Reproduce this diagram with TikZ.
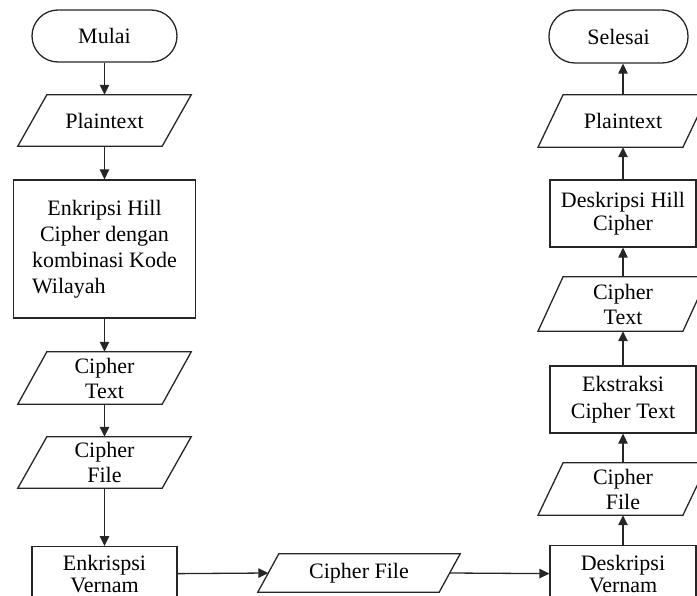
\documentclass[tikz,border=0pt]{standalone}
\usepackage{fontspec}
\setmainfont{Liberation Serif}
\usetikzlibrary{arrows.meta}
\begin{document}
\begin{tikzpicture}[x=1pt,y=1pt,
  font=\fontsize{22}{25}\selectfont,
  ln/.style={draw=black!85, line width=1.3pt},
  arr/.style={ln, -{Triangle[length=10pt,width=9.5pt]}},
  base/.style={inner sep=0pt, align=center, text=black},
  term/.style={base, ln, rectangle, rounded corners=26pt},
  proc/.style={base, ln, rectangle},
  io/.style={base, rectangle}]
\path[use as bounding box, clip] (0,0) rectangle (697,-596);

% left column
\node[term, minimum width=145pt, minimum height=52pt] (mulai) at (104.5,-36) {Mulai};
\node[io, minimum width=144pt, minimum height=51pt] (pt1) at (104.5,-120.5) {Plaintext};
\node[proc, minimum width=182pt, minimum height=138pt, font=\fontsize{22}{26}\selectfont] (enc) at (104.5,-249)
  {Enkripsi Hill\\Cipher dengan\\kombinasi Kode\\\rlap{Wilayah}\phantom{kombinasi Kode}};
\node[io, minimum width=144pt, minimum height=52pt] (ct1) at (104.5,-378) {Cipher\\Text};
\node[io, minimum width=144pt, minimum height=51pt] (cf1) at (104.5,-462.5) {Cipher\\File};
\node[proc, minimum width=145pt, minimum height=54pt, anchor=north, font=\fontsize{22}{22}\selectfont] (ev) at (104.5,-546) {Enkrispsi\\Vernam};

% middle
\node[io, minimum width=181pt, minimum height=38pt] (cfm) at (359,-573) {Cipher File};

% right column
\node[proc, minimum width=146pt, minimum height=56pt, anchor=north, font=\fontsize{22}{22}\selectfont] (dv) at (623,-545) {Deskripsi\\Vernam};
\node[io, minimum width=144.5pt, minimum height=52pt] (cf2) at (623,-489) {Cipher\\File};
\node[proc, minimum width=146pt, minimum height=67pt, font=\fontsize{22}{27}\selectfont] (ex) at (623,-399.5) {Ekstraksi\\Cipher Text};
\node[io, minimum width=144.5pt, minimum height=54pt] (ct2) at (623,-304) {Cipher\\Text};
\node[proc, minimum width=146pt, minimum height=67pt, font=\fontsize{22}{23}\selectfont] (dh) at (623,-213.5) {Deskripsi Hill\\Cipher};
\node[io, minimum width=144.5pt, minimum height=52pt] (pt2) at (623,-121) {Plaintext};
\node[term, minimum width=139pt, minimum height=53pt] (selesai) at (618.5,-36.5) {Selesai};

% parallelogram outlines
\foreach \n/\s in {pt1/14.5,ct1/14.5,cf1/14.5,cfm/10.5,pt2/12.5,ct2/12.5,cf2/12.5}
  \draw[ln, line join=miter]
    ([xshift=-\s*1pt]\n.south west) -- ([xshift=\s*1pt]\n.north west) --
    ([xshift=\s*1pt]\n.north east) -- ([xshift=-\s*1pt]\n.south east) -- cycle;

% connectors
\draw[arr] (mulai.south) -- (pt1.north);
\draw[arr] (pt1.south) -- (enc.north);
\draw[arr] (enc.south) -- (ct1.north);
\draw[arr] (ct1.south) -- (cf1.north);
\draw[arr] (cf1.south) -- (ev.north);
\draw[arr] (ev.east) -- (cfm.west);
\draw[arr] (cfm.east) -- (dv.west);
\draw[arr] (dv.north) -- (cf2.south);
\draw[arr] (cf2.north) -- (ex.south);
\draw[arr] (ex.north) -- (ct2.south);
\draw[arr] (ct2.north) -- (dh.south);
\draw[arr] (dh.north) -- (pt2.south);
\draw[arr] (pt2.north) -- (pt2.north |- selesai.south);
\end{tikzpicture}
\end{document}
